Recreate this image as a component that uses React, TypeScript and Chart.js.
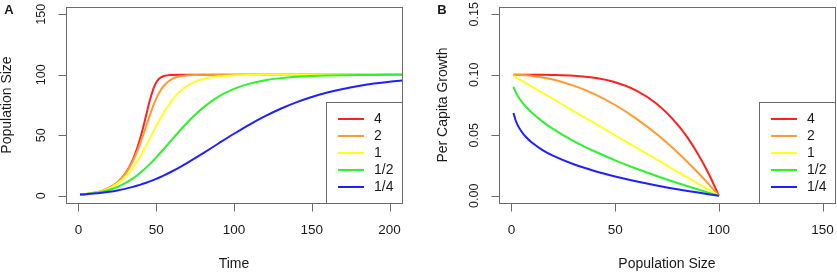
import React, { useEffect, useRef } from 'react';
import { Chart, registerables } from 'chart.js';
Chart.register(...registerables);

// ---------- data ----------
const thetaLabels = ['4', '2', '1', '1/2', '1/4'];
const seriesColors = ['#ff2020', '#ff9a30', '#ffff20', '#30f030', '#2020ff'];

// Panel A: population size over time
const timeSteps = [1, 5, 10, 15, 20, 25, 30, 35, 38, 40, 42, 44, 46, 48, 50, 52, 55, 60, 65, 70, 75, 80, 90, 100, 110, 120, 130, 140, 150, 160, 170, 180, 190, 200, 210];
const popTheta4 = [1, 1.49, 2.46, 4.06, 6.69, 11.02, 18.17, 29.9, 40.18, 48.69, 58.49, 69.09, 79.35, 87.78, 93.52, 96.82, 98.99, 99.86, 99.98, 100, 100, 100, 100, 100, 100, 100, 100, 100, 100, 100, 100, 100, 100, 100, 100];
const popTheta2 = [1, 1.49, 2.46, 4.05, 6.67, 10.96, 17.88, 28.7, 37.5, 44.29, 51.66, 59.33, 66.9, 73.98, 80.21, 85.38, 91.14, 96.45, 98.64, 99.5, 99.81, 99.93, 99.99, 100, 100, 100, 100, 100, 100, 100, 100, 100, 100, 100, 100];
const popTheta1 = [1, 1.48, 2.42, 3.94, 6.33, 10.02, 15.51, 23.23, 29.0, 33.29, 37.87, 42.68, 47.62, 52.62, 57.56, 62.36, 69.1, 78.66, 85.87, 90.93, 94.29, 96.46, 98.67, 99.51, 99.82, 99.93, 99.97, 100, 100, 100, 100, 100, 100, 100, 100];
const popThetaHalf = [1, 1.43, 2.2, 3.34, 4.98, 7.26, 10.33, 14.3, 17.14, 19.23, 21.46, 23.84, 26.34, 28.96, 31.68, 34.49, 38.83, 46.21, 53.52, 60.49, 66.91, 72.64, 81.88, 88.37, 92.69, 95.47, 97.21, 98.3, 98.96, 99.37, 99.62, 99.77, 99.86, 99.91, 99.95];
const popThetaQuarter = [1, 1.31, 1.81, 2.47, 3.31, 4.37, 5.69, 7.3, 8.4, 9.2, 10.06, 10.96, 11.92, 12.93, 13.99, 15.1, 16.86, 20.04, 23.48, 27.16, 31.02, 35.01, 43.17, 51.23, 58.85, 65.78, 71.9, 77.17, 81.6, 85.28, 88.29, 90.73, 92.68, 94.24, 95.48];

// Panel B: per capita growth vs population size
const popSizes = [1, 2, 3, 5, 7, 10, 15, 20, 30, 40, 50, 60, 70, 80, 85, 90, 95, 100];
const growthTheta4 = [0.1, 0.1, 0.1, 0.1, 0.1, 0.09999, 0.09995, 0.09984, 0.09919, 0.09744, 0.09375, 0.08704, 0.07599, 0.05904, 0.0478, 0.03439, 0.01855, 0];
const growthTheta2 = [0.09999, 0.09996, 0.09991, 0.09975, 0.09951, 0.099, 0.09775, 0.096, 0.091, 0.084, 0.075, 0.064, 0.051, 0.036, 0.02775, 0.019, 0.00975, 0];
const growthTheta1 = [0.099, 0.098, 0.097, 0.095, 0.093, 0.09, 0.085, 0.08, 0.07, 0.06, 0.05, 0.04, 0.03, 0.02, 0.015, 0.01, 0.005, 0];
const growthThetaHalf = [0.09, 0.08586, 0.08268, 0.07764, 0.07354, 0.06838, 0.06127, 0.05528, 0.04523, 0.03675, 0.02929, 0.02254, 0.01633, 0.01056, 0.0078, 0.00513, 0.00253, 0];
const growthThetaQuarter = [0.06838, 0.06239, 0.05838, 0.05271, 0.04856, 0.04377, 0.03777, 0.03313, 0.02599, 0.02047, 0.01591, 0.01199, 0.00853, 0.00543, 0.00398, 0.0026, 0.00127, 0];

// ticks
const xTicksA = [0, 50, 100, 150, 200];
const xTickLabelsA = ['0', '50', '100', '150', '200'];
const yTicksA = [0, 50, 100, 150];
const yTickLabelsA = ['0', '50', '100', '150'];
const xTicksB = [0, 50, 100, 150];
const xTickLabelsB = ['0', '50', '100', '150'];
const yTicksB = [0, 0.05, 0.1, 0.15];
const yTickLabelsB = ['0.00', '0.05', '0.10', '0.15'];

// ---------- style ----------
const AXIS_COLOR = '#6a6a6a';
const TEXT_COLOR = '#1a1a1a';
const FONT = '"Liberation Sans", Arial, Helvetica, sans-serif';

type PanelSpec = {
  letter: string;
  letterX: number;
  xTitle: string;
  yTitle: string;
  yTitleOffset: number;
  xTicks: number[];
  xTickLabels: string[];
  yTicks: number[];
  yTickLabels: string[];
};

function makeDecor(spec: PanelSpec) {
  return {
    id: 'decor' + spec.letter,
    afterDraw(chart: any) {
      const ctx: CanvasRenderingContext2D = chart.ctx;
      const { left, right, top, bottom } = chart.chartArea;
      const xs = chart.scales.x;
      const ys = chart.scales.y;
      ctx.save();
      // box
      ctx.strokeStyle = AXIS_COLOR;
      ctx.lineWidth = 1;
      ctx.strokeRect(left + 0.5, top + 0.5, right - left, bottom - top);
      // ticks
      ctx.beginPath();
      spec.xTicks.forEach((v) => {
        const px = Math.round(xs.getPixelForValue(v)) + 0.5;
        ctx.moveTo(px, bottom + 0.5);
        ctx.lineTo(px, bottom + 8.5);
      });
      spec.yTicks.forEach((v) => {
        const py = Math.round(ys.getPixelForValue(v)) + 0.5;
        ctx.moveTo(left + 0.5, py);
        ctx.lineTo(left - 7.5, py);
      });
      ctx.stroke();
      // tick labels
      ctx.fillStyle = TEXT_COLOR;
      ctx.font = '13.5px ' + FONT;
      ctx.textAlign = 'center';
      ctx.textBaseline = 'middle';
      spec.xTicks.forEach((v, i) => {
        ctx.fillText(spec.xTickLabels[i], xs.getPixelForValue(v), bottom + 27);
      });
      ctx.font = '12.5px ' + FONT;
      spec.yTicks.forEach((v, i) => {
        ctx.save();
        ctx.translate(left - 24.5, ys.getPixelForValue(v));
        ctx.rotate(-Math.PI / 2);
        ctx.fillText(spec.yTickLabels[i], 0, 0);
        ctx.restore();
      });
      // axis titles
      ctx.font = '14px ' + FONT;
      ctx.fillText(spec.xTitle, (left + right) / 2, 264);
      ctx.save();
      ctx.translate(left - spec.yTitleOffset, (top + bottom) / 2);
      ctx.rotate(-Math.PI / 2);
      ctx.fillText(spec.yTitle, 0, 0);
      ctx.restore();
      // panel letter
      ctx.font = 'bold 13px ' + FONT;
      ctx.fillText(spec.letter, spec.letterX, 10);
      // legend
      const boxL = right - 76;
      const boxT = 102;
      ctx.fillStyle = '#ffffff';
      ctx.fillRect(boxL + 0.5, boxT + 0.5, right - boxL, bottom - boxT);
      ctx.strokeStyle = AXIS_COLOR;
      ctx.strokeRect(boxL + 0.5, boxT + 0.5, right - boxL, bottom - boxT);
      ctx.font = '14px ' + FONT;
      ctx.textAlign = 'left';
      thetaLabels.forEach((lab, i) => {
        const y = boxT + 17 + i * 17;
        ctx.strokeStyle = seriesColors[i];
        ctx.lineWidth = 2;
        ctx.beginPath();
        ctx.moveTo(boxL + 12, y);
        ctx.lineTo(boxL + 38, y);
        ctx.stroke();
        ctx.fillStyle = TEXT_COLOR;
        ctx.fillText(lab, boxL + 48, y);
      });
      ctx.restore();
    },
  };
}

function buildChart(
  canvas: HTMLCanvasElement,
  xVals: number[],
  series: number[][],
  xRange: [number, number],
  yRange: [number, number],
  padding: { left: number; right: number; top: number; bottom: number },
  spec: PanelSpec
) {
  return new Chart(canvas, {
    type: 'line',
    data: {
      datasets: series.map((s, i) => ({
        label: thetaLabels[i],
        data: xVals.map((x, j) => ({ x, y: s[j] })),
        borderColor: seriesColors[i],
        backgroundColor: seriesColors[i],
        borderWidth: 2,
        pointRadius: 0,
        fill: false,
        cubicInterpolationMode: 'monotone' as const,
        order: series.length - i,
      })),
    },
    options: {
      animation: false,
      responsive: false,
      devicePixelRatio: 1,
      layout: { padding },
      plugins: { legend: { display: false }, tooltip: { enabled: false } },
      scales: {
        x: { type: 'linear', min: xRange[0], max: xRange[1], display: false },
        y: { type: 'linear', min: yRange[0], max: yRange[1], display: false },
      },
    },
    plugins: [makeDecor(spec)],
  } as any);
}

export default function App() {
  const refA = useRef<HTMLCanvasElement>(null);
  const refB = useRef<HTMLCanvasElement>(null);

  useEffect(() => {
    const a = buildChart(
      refA.current!,
      timeSteps,
      [popTheta4, popTheta2, popTheta1, popThetaHalf, popThetaQuarter],
      [-8, 208],
      [-6, 156],
      { left: 66, right: 16, top: 7, bottom: 71 },
      {
        letter: 'A',
        letterX: 9,
        xTitle: 'Time',
        yTitle: 'Population Size',
        yTitleOffset: 58.5,
        xTicks: xTicksA,
        xTickLabels: xTickLabelsA,
        yTicks: yTicksA,
        yTickLabels: yTickLabelsA,
      }
    );
    const b = buildChart(
      refB.current!,
      popSizes,
      [growthTheta4, growthTheta2, growthTheta1, growthThetaHalf, growthThetaQuarter],
      [-6, 156],
      [-0.006, 0.156],
      { left: 81, right: 2, top: 7, bottom: 71 },
      {
        letter: 'B',
        letterX: 24,
        xTitle: 'Population Size',
        yTitle: 'Per Capita Growth',
        yTitleOffset: 55.5,
        xTicks: xTicksB,
        xTickLabels: xTickLabelsB,
        yTicks: yTicksB,
        yTickLabels: yTickLabelsB,
      }
    );
    return () => {
      a.destroy();
      b.destroy();
    };
  }, []);

  return (
    <div style={{ position: 'absolute', left: 0, top: 0, width: 837, height: 274, background: '#fff' }}>
      <canvas ref={refA} width={418} height={274} style={{ position: 'absolute', left: 0, top: 0, width: 418, height: 274 }} />
      <canvas ref={refB} width={419} height={274} style={{ position: 'absolute', left: 418, top: 0, width: 419, height: 274 }} />
    </div>
  );
}
